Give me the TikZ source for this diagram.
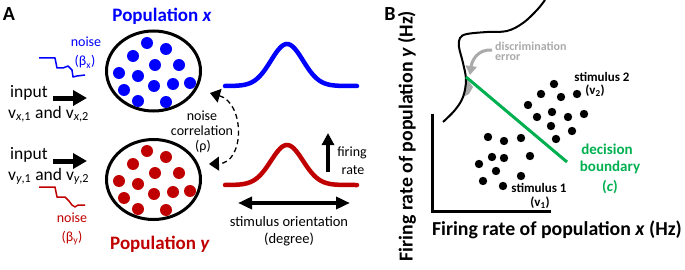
\documentclass[tikz,border=0pt]{standalone}
\usepackage{fontspec}
\setmainfont{Carlito}
\usetikzlibrary{arrows.meta, shapes.geometric}
\definecolor{popblue}{RGB}{0,0,255}
\definecolor{popred}{RGB}{192,0,0}
\definecolor{bndgreen}{RGB}{0,176,80}
\definecolor{errgray}{RGB}{170,170,170}
\tikzset{popring/.style = {shape = ellipse, draw, line width = 3pt, minimum width = 94pt, minimum height = 80pt, inner sep = 0pt}}
\tikzset{txt/.style = {inner sep = 0pt, font = \fontsize{14}{16}\selectfont}}
\tikzset{panel/.style = {inner sep = 0pt, font = \fontsize{20}{22}\selectfont\bfseries}}
\tikzset{popname/.style = {inner sep = 0pt, font = \fontsize{19}{21}\selectfont\bfseries}}
\tikzset{inputtxt/.style = {inner sep = 0pt, anchor = base west, font = \fontsize{17.5}{19}\selectfont}}
\tikzset{axislbl/.style = {inner sep = 0pt, font = \fontsize{19.8}{21}\selectfont\bfseries}}
\tikzset{tune/.style = {line width = 4.5pt, line cap = round}}
\tikzset{fatarrow/.style = {line width = 5pt, -{Triangle[length = 14pt, width = 15pt]}}}
\tikzset{ratearrow/.style = {line width = 4pt, -{Triangle[length = 12pt, width = 12pt]}}}
\tikzset{spanarrow/.style = {line width = 3.5pt, {Triangle[length = 14pt, width = 12pt]}-{Triangle[length = 14pt, width = 12pt]}}}
\tikzset{corrarrow/.style = {line width = 1.3pt, dash pattern = on 5pt off 3.5pt, {Triangle[length = 10pt, width = 14pt]}-{Triangle[length = 10pt, width = 14pt]}}}
\tikzset{noiseline/.style = {line width = 1.5pt, line join = round}}

\begin{document}
\begin{tikzpicture}[x = 1pt, y = -1pt]
	\useasboundingbox (0, 0) rectangle (685, 270);

	\node[panel] (lblA) at (9, 14) {A};
	\node[panel] (lblB) at (390, 14) {B};

	\node[popring] (popx) at (153.5, 71) {};
	\node[popring] (popy) at (153.5, 179.5) {};
	\foreach \px/\py in {147/43, 166/49, 133/56, 155/65, 179/65, 119/73, 138/76, 154/86, 173/84, 190/83, 124/90, 138/101, 166/102} {
		\fill[popblue] (\px, \py) circle[radius = 6pt];
		\fill[popred] (\px, \py + 108) circle[radius = 6pt];
	}
	\node[popname, text = popblue] (namex) at (162, 16) {Population \textit{x}};
	\node[popname, text = popred] (namey) at (160, 244) {Population \textit{y}};

	\node[txt, text = popblue] (noisex) at (86, 42) {noise};
	\node[txt, text = popblue] (betax) at (85, 62) {(β\textsubscript{x})};
	\draw[noiseline, popblue] (39, 58) -- (55, 58) -- (57, 68) -- (63, 68) -- (68, 66) -- (72, 70) -- (73, 77) -- (77, 76) -- (85, 75);
	\node[txt, text = popred] (noisey) at (72, 218) {noise};
	\node[txt, text = popred] (betay) at (72, 238) {(β\textsubscript{y})};
	\draw[noiseline, popred] (39, 187) -- (55, 187) -- (57, 197) -- (65, 197) -- (69, 201) -- (72, 205) -- (75, 207) -- (78, 205) -- (85, 205);

	\node[inputtxt] (inx) at (10, 97) {input};
	\node[inputtxt] (vx) at (8, 118) {v\textsubscript{\textit{x},1} and v\textsubscript{\textit{x},2}};
	\node[inputtxt] (iny) at (10, 159) {input};
	\node[inputtxt] (vy) at (8, 180) {v\textsubscript{\textit{y},1} and v\textsubscript{\textit{y},2}};
	\coordinate (inxs) at (53, 98);
	\coordinate (inxe) at (87, 98);
	\coordinate (inys) at (53, 161);
	\coordinate (inye) at (87, 161);
	\draw[fatarrow] (inxs) -- (inxe);
	\draw[fatarrow] (inys) -- (inye);

	\coordinate (corrtop) at (210, 93);
	\coordinate (corrbot) at (209, 164);
	\draw[corrarrow] (corrtop) .. controls (245, 103) and (245, 163) .. (corrbot);
	\node[txt] (corr1) at (202, 116) {noise};
	\node[txt] (corr2) at (202, 131) {correlation};
	\node[txt] (corr3) at (203, 147) {(ρ)};

	\draw[tune, popblue] plot[domain = 225:357, samples = 80] (\x, {86 - 42*exp(-0.5*((\x - 287)/16)*((\x - 287)/16))});
	\draw[tune, popred] plot[domain = 225:357, samples = 80] (\x, {185 - 40*exp(-0.5*((\x - 287)/16)*((\x - 287)/16))});

	\coordinate (rates) at (328, 172);
	\coordinate (ratee) at (328, 133);
	\draw[ratearrow] (rates) -- (ratee);
	\node[txt] (rate1) at (352, 153) {firing};
	\node[txt] (rate2) at (353, 170) {rate};

	\coordinate (oril) at (238, 203);
	\coordinate (orir) at (350, 203);
	\draw[spanarrow] (oril) -- (orir);
	\node[txt, font = \fontsize{14.5}{16}\selectfont] (ori1) at (289, 222) {stimulus orientation};
	\node[txt, font = \fontsize{14.5}{16}\selectfont] (ori2) at (289, 239) {(degree)};

	\coordinate (ytop) at (432, 114);
	\coordinate (origin) at (432, 211);
	\coordinate (xend) at (551, 211);
	\draw[line width = 3pt] (ytop) -- (origin) -- (xend);
	\node[axislbl] (xlbl) at (557, 230) {Firing rate of population \textit{x} (Hz)};
	\node[axislbl, rotate = 90] (ylbl) at (407, 136) {Firing rate of population \textit{y} (Hz)};

	\fill[errgray] (466, 78) -- (473, 87) -- (469, 94) -- (463, 97) -- cycle;
	\draw[line width = 2pt] plot[smooth, tension = 0.6] coordinates {(443, 122) (455, 110) (463, 97) (466, 80) (463, 63) (459, 47) (460, 38) (467, 34) (487, 32) (507, 31) (523, 23) (537, 10) (545, 0)};
	\coordinate (bnds) at (466, 77);
	\coordinate (bnde) at (567, 162);
	\draw[line width = 3pt, bndgreen] (bnds) -- (bnde);

	\coordinate (errs) at (492, 50);
	\coordinate (erre) at (470, 75);
	\draw[line width = 3pt, errgray, -{Triangle[length = 9pt, width = 11pt]}] (errs) .. controls (478, 49) and (472, 60) .. (erre);
	\node[inner sep = 0pt, anchor = west, text = errgray, font = \fontsize{12}{14}\selectfont\bfseries] (err1) at (495, 46) {discrimination};
	\node[inner sep = 0pt, anchor = west, text = errgray, font = \fontsize{12}{14}\selectfont\bfseries] (err2) at (495, 58) {error};

	\foreach \px/\py in {554/84, 541/94, 561/97, 577/94, 528/105, 552/112, 537/117, 568/117, 584/114, 551/126, 572/131, 556/139, 488/137, 504/141, 521/138, 492/157, 504/158, 530/156, 479/164, 496/171, 521/176, 483/181, 503/186} {
		\fill (\px, \py) circle[radius = 4.2pt];
	}
	\node[txt, font = \fontsize{13}{15}\selectfont\bfseries] (stim2) at (602, 77) {stimulus 2};
	\node[txt, font = \fontsize{13}{15}\selectfont\bfseries] (v2) at (595, 91) {(v\textsubscript{2})};
	\node[txt, font = \fontsize{13}{15}\selectfont\bfseries] (stim1) at (539, 188) {stimulus 1};
	\node[txt, font = \fontsize{13}{15}\selectfont\bfseries] (v1) at (540, 203) {(v\textsubscript{1})};

	\node[txt, text = bndgreen, font = \fontsize{15}{17}\selectfont\bfseries] (dec1) at (607, 149) {decision};
	\node[txt, text = bndgreen, font = \fontsize{15}{17}\selectfont\bfseries] (dec2) at (610, 167) {boundary};
	\node[txt, text = bndgreen, font = \fontsize{15}{17}\selectfont\bfseries] (dec3) at (610, 187) {(\textit{c})};
\end{tikzpicture}
\end{document}
